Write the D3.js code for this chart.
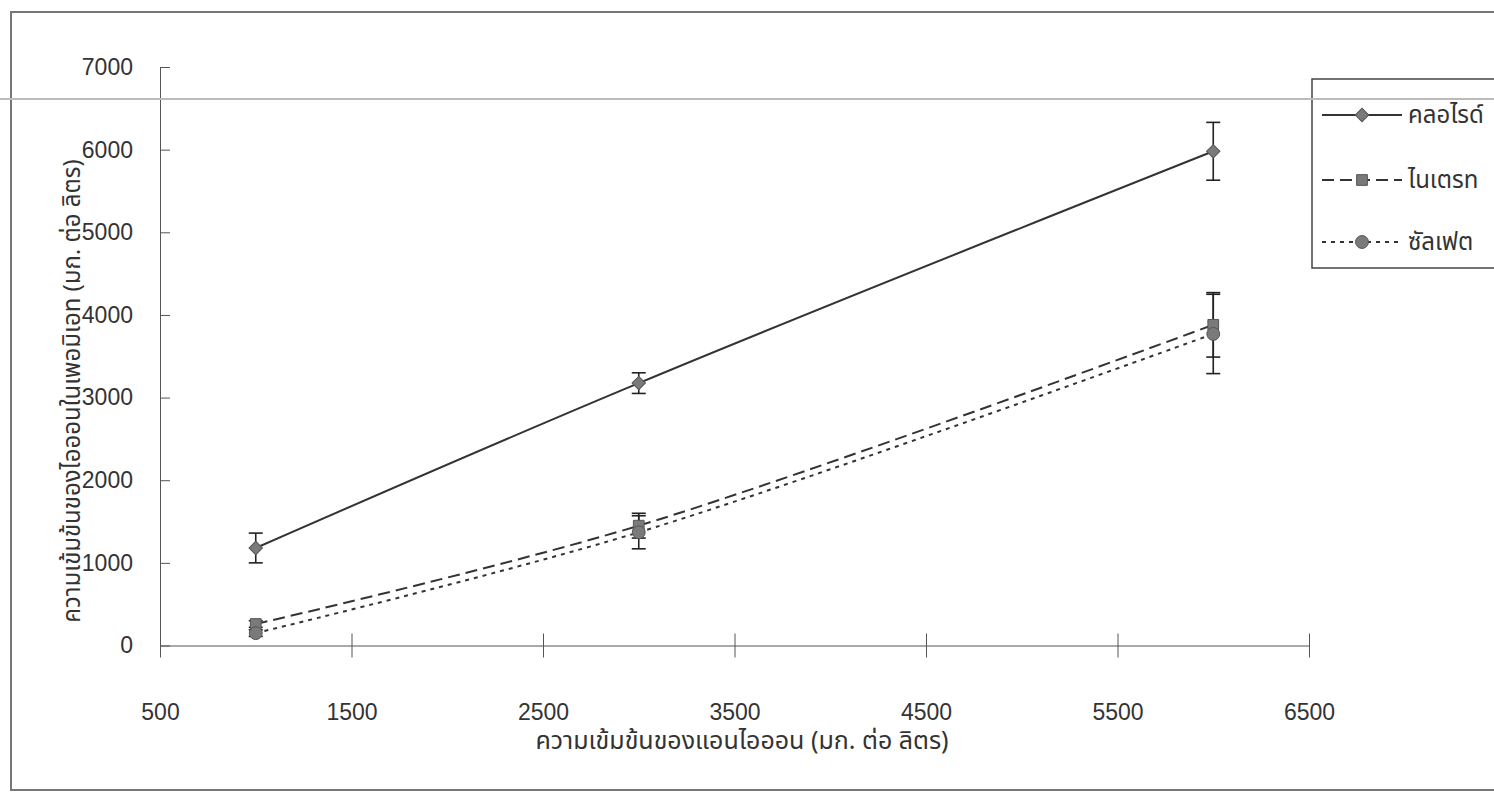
<!DOCTYPE html>
<html>
<head>
<meta charset="utf-8">
<script src="https://cdn.jsdelivr.net/npm/d3@7"></script>
<style>
  body { margin: 0; background: #fff; }
  text { font-family: "Liberation Sans", Arial, sans-serif; fill: #333; }
  .thai { font-family: "Noto Sans Thai", "Noto Sans", "DejaVu Sans", sans-serif; }
</style>
</head>
<body>
<div id="chart"></div>
<script>
// data
var anion = [1000, 3000, 6000];
var chloride = [1180, 3175, 5980];
var chlorideErr = [180, 125, 350];
var nitrate = [260, 1450, 3880];
var nitrateErr = [40, 150, 390];
var sulfate = [150, 1370, 3770];
var sulfateErr = [40, 200, 480];
var seriesNames = ["คลอไรด์", "ไนเตรท", "ซัลเฟต"];
var xTicks = [500, 1500, 2500, 3500, 4500, 5500, 6500];
var yTicks = [0, 1000, 2000, 3000, 4000, 5000, 6000, 7000];

var svgWidth = 1494;
var svgHeight = 796;

var svg = d3.select("#chart").append("svg")
    .attr("width", svgWidth)
    .attr("height", svgHeight);

// outer frame (page border)
svg.append("path")
    .attr("d", "M1494,12 H11 V790 H1494")
    .attr("fill", "none")
    .attr("stroke", "#777")
    .attr("stroke-width", 2);

// scales
var x = d3.scaleLinear().domain([500, 6500]).range([160, 1309]);
var y = d3.scaleLinear().domain([0, 7000]).range([645.5, 67]);

// x axis with crossing ticks
var xAxis = svg.append("g")
    .attr("transform", `translate(0, ${y(0)})`)
    .call(d3.axisBottom(x).tickValues(xTicks).tickFormat(d3.format("d"))
        .tickSize(12).tickSizeOuter(0).tickPadding(46));
xAxis.select(".domain").attr("stroke", "#555");
xAxis.selectAll(".tick line").attr("y1", -12).attr("stroke", "#555");
xAxis.selectAll(".tick text").attr("font-size", 23).attr("fill", "#333")
    .style("font-family", "Liberation Sans, Arial, sans-serif");

// y axis with crossing ticks
var yAxis = svg.append("g")
    .attr("transform", `translate(${x(500)}, 0)`)
    .call(d3.axisLeft(y).tickValues(yTicks).tickFormat(d3.format("d"))
        .tickSize(10).tickSizeOuter(0).tickPadding(17));
yAxis.select(".domain").attr("stroke", "#555");
yAxis.selectAll(".tick line").attr("x2", 10).attr("stroke", "#555");
yAxis.selectAll(".tick text").attr("font-size", 23).attr("fill", "#333")
    .style("font-family", "Liberation Sans, Arial, sans-serif");

// axis titles
svg.append("text")
    .attr("class", "thai")
    .attr("x", 742)
    .attr("y", 749)
    .attr("text-anchor", "middle")
    .attr("font-size", 25)
    .text("ความเข้มข้นของแอนไอออน (มก. ต่อ ลิตร)");

svg.append("text")
    .attr("class", "thai")
    .attr("transform", "translate(80, 391) rotate(-90)")
    .attr("text-anchor", "middle")
    .attr("font-size", 24)
    .text("ความเข้มข้นของไอออนในเพอมิเอท (มก. ต่อ ลิตร)");

var diamond = d3.symbol().type(d3.symbolSquare).size(90);
var square = d3.symbol().type(d3.symbolSquare).size(115);
var circle = d3.symbol().type(d3.symbolCircle).size(130);

var series = [
    { name: seriesNames[0], values: chloride, err: chlorideErr, dash: null, marker: diamond, rot: 45 },
    { name: seriesNames[1], values: nitrate, err: nitrateErr, dash: "12,6", marker: square, rot: 0 },
    { name: seriesNames[2], values: sulfate, err: sulfateErr, dash: "4,5", marker: circle, rot: 0 }
];

var line = d3.line()
    .x((d, i) => x(anion[i]))
    .y(d => y(d))
    .curve(d3.curveCatmullRom);

// lines
series.forEach(function(s) {
    svg.append("path")
        .datum(s.values)
        .attr("d", line)
        .attr("fill", "none")
        .attr("stroke", "#333")
        .attr("stroke-width", 2)
        .attr("stroke-dasharray", s.dash);
});

// error bars
series.forEach(function(s) {
    var g = svg.append("g").attr("stroke", "#222").attr("stroke-width", 1.6);
    s.values.forEach(function(v, i) {
        var cx = x(anion[i]);
        var top = y(v + s.err[i]);
        var bot = y(v - s.err[i]);
        g.append("line").attr("x1", cx).attr("x2", cx).attr("y1", top).attr("y2", bot);
        g.append("line").attr("x1", cx - 7).attr("x2", cx + 7).attr("y1", top).attr("y2", top);
        g.append("line").attr("x1", cx - 7).attr("x2", cx + 7).attr("y1", bot).attr("y2", bot);
    });
});

// markers
series.forEach(function(s) {
    svg.selectAll(null)
        .data(s.values)
        .enter()
        .append("path")
        .attr("d", s.marker)
        .attr("transform", (d, i) => `translate(${x(anion[i])}, ${y(d)}) rotate(${s.rot})`)
        .attr("fill", "#7a7a7a")
        .attr("stroke", "#555")
        .attr("stroke-width", 1);
});

// legend box (runs off the right edge)
svg.append("path")
    .attr("d", "M1500,79 H1312 V268 H1500")
    .attr("fill", "none")
    .attr("stroke", "#444")
    .attr("stroke-width", 1.5);

var legendY = [115, 180, 242];
series.forEach(function(s, i) {
    var ly = legendY[i];
    svg.append("line")
        .attr("x1", 1322).attr("x2", 1402)
        .attr("y1", ly).attr("y2", ly)
        .attr("stroke", "#333")
        .attr("stroke-width", 2)
        .attr("stroke-dasharray", s.dash);
    svg.append("path")
        .attr("d", s.marker)
        .attr("transform", `translate(1362, ${ly}) rotate(${s.rot})`)
        .attr("fill", "#7a7a7a")
        .attr("stroke", "#555");
    svg.append("text")
        .attr("class", "thai")
        .attr("x", 1408)
        .attr("y", ly + 8)
        .attr("font-size", 24)
        .text(s.name);
});

// scan line across the top of the page
svg.append("line")
    .attr("x1", 0).attr("x2", svgWidth)
    .attr("y1", 99).attr("y2", 99)
    .attr("stroke", "#bbb")
    .attr("stroke-width", 2);
</script>
</body>
</html>
